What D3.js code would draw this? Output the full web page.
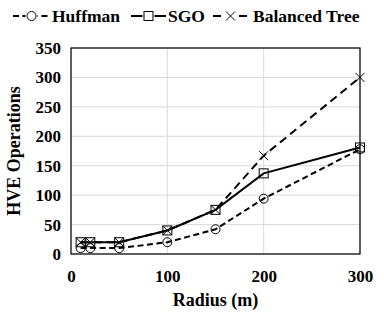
<!DOCTYPE html>
<html>
<head>
<meta charset="utf-8">
<script src="https://cdn.jsdelivr.net/npm/d3@7"></script>
<style>
  body { margin: 0; background: #fff; }
  text { font-family: "Liberation Serif", "Times New Roman", serif; font-weight: bold; }
</style>
</head>
<body>
<svg id="chart" width="384" height="315"></svg>
<script>
/* data */
var radius = [10, 20, 50, 100, 150, 200, 300];
var huffman = [10, 10, 10, 20, 42, 94, 178];
var sgo = [20, 20, 20, 40, 75, 137, 181];
var balanced = [20, 20, 20, 40, 75, 167, 300];
var yTicks = [0, 50, 100, 150, 200, 250, 300, 350];
var xTicks = [0, 100, 200, 300];

var svg = d3.select("#chart");

var margin = {top: 48, right: 24, bottom: 61, left: 71},
    width = 384 - margin.left - margin.right,
    height = 315 - margin.top - margin.bottom;

var g = svg.append("g")
    .attr("transform", "translate(" + margin.left + "," + margin.top + ")");

var x = d3.scaleLinear().domain([0, 300]).range([0, width]);
var y = d3.scaleLinear().domain([0, 350]).range([height, 0]);

/* grid */
g.selectAll(".hgrid").data(yTicks).enter().append("line")
    .attr("x1", 0).attr("x2", width)
    .attr("y1", function(d) { return y(d); })
    .attr("y2", function(d) { return y(d); })
    .attr("stroke", "#d9d9d9").attr("stroke-width", 1);
g.selectAll(".vgrid").data(xTicks).enter().append("line")
    .attr("y1", 0).attr("y2", height)
    .attr("x1", function(d) { return x(d); })
    .attr("x2", function(d) { return x(d); })
    .attr("stroke", "#d9d9d9").attr("stroke-width", 1);

/* axes */
var xAxis = g.append("g")
    .attr("transform", "translate(0," + height + ")")
    .call(d3.axisBottom(x).tickValues(xTicks).tickSize(0).tickPadding(16));
var yAxis = g.append("g")
    .call(d3.axisLeft(y).tickValues(yTicks).tickSize(0).tickPadding(10));
[xAxis, yAxis].forEach(function(a) {
  a.select(".domain").remove();
  a.selectAll("text").attr("fill", "#000").style("font-size", "17px")
    .style("font-family", "'Liberation Serif', serif").style("font-weight", "bold");
});

/* frame */
g.append("rect")
    .attr("width", width).attr("height", height)
    .attr("fill", "none").attr("stroke", "#000").attr("stroke-width", 1.2);

var series = [
  {name: "Huffman", values: huffman, dash: "6,3.5", marker: "circle"},
  {name: "SGO", values: sgo, dash: null, marker: "square"},
  {name: "Balanced Tree", values: balanced, dash: "8,5", marker: "cross"}
];

var line = d3.line()
    .x(function(d) { return x(d[0]); })
    .y(function(d) { return y(d[1]); });

function drawMarker(sel, type) {
  if (type === "circle") {
    sel.append("circle").attr("r", 4.5)
      .attr("fill", "none").attr("stroke", "#000").attr("stroke-width", 1);
  } else if (type === "square") {
    sel.append("rect").attr("x", -4.5).attr("y", -4.5).attr("width", 9).attr("height", 9)
      .attr("fill", "none").attr("stroke", "#000").attr("stroke-width", 1);
  } else {
    sel.append("path").attr("d", "M-4.5,-4.5L4.5,4.5M-4.5,4.5L4.5,-4.5")
      .attr("fill", "none").attr("stroke", "#000").attr("stroke-width", 1);
  }
}

series.forEach(function(s) {
  var pts = radius.map(function(r, i) { return [r, s.values[i]]; });
  g.append("path")
      .datum(pts)
      .attr("d", line)
      .attr("fill", "none")
      .attr("stroke", "#000")
      .attr("stroke-width", 2)
      .attr("stroke-dasharray", s.dash);
  g.selectAll(null).data(pts).enter().append("g")
      .attr("transform", function(d) { return "translate(" + x(d[0]) + "," + y(d[1]) + ")"; })
      .each(function() { drawMarker(d3.select(this), s.marker); });
});

/* axis titles */
svg.append("text")
    .attr("x", margin.left + width / 2).attr("y", 306)
    .attr("text-anchor", "middle").style("font-size", "18px")
    .text("Radius (m)");
svg.append("text")
    .attr("transform", "translate(20," + (margin.top + height / 2) + ") rotate(-90)")
    .attr("text-anchor", "middle").style("font-size", "18px")
    .text("HVE Operations");

/* legend */
var legendPos = [{x1: 13, x2: 50, tx: 52}, {x1: 131, x2: 166, tx: 168}, {x1: 213, x2: 248, tx: 253}];
var legend = svg.append("g");
series.forEach(function(s, i) {
  var p = legendPos[i];
  var lg = legend.append("g");
  lg.append("line")
      .attr("x1", p.x1).attr("x2", p.x2).attr("y1", 16).attr("y2", 16)
      .attr("stroke", "#000").attr("stroke-width", 2)
      .attr("stroke-dasharray", s.dash);
  var m = lg.append("g").attr("transform", "translate(" + ((p.x1 + p.x2) / 2) + ",16)");
  m.append("rect").attr("x", -6).attr("y", -6).attr("width", 12).attr("height", 12).attr("fill", "#fff");
  drawMarker(m, s.marker);
  lg.append("text")
      .attr("x", p.tx).attr("y", 16).attr("dy", "0.35em")
      .style("font-size", "17.5px")
      .text(s.name);
});
</script>
</body>
</html>
